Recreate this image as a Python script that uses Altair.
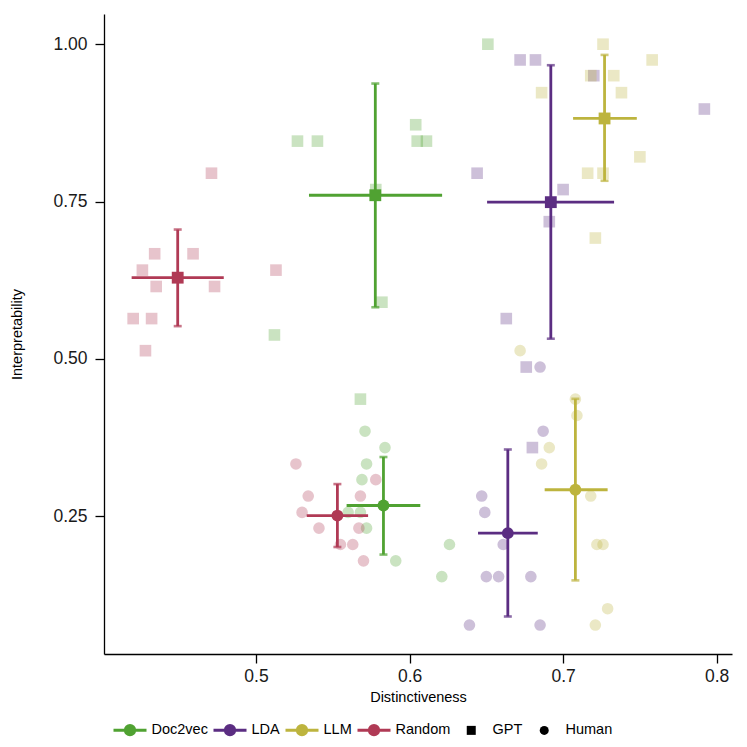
import altair as alt
import pandas as pd

models = ["Doc2vec", "LDA", "LLM", "Random"]
raters = ["GPT", "Human"]
model_colors = ["#50a232", "#5b2d82", "#bdb43e", "#b03a55"]

# ---- individual topic scores (faded points) ----
doc2vec_gpt_x = [0.527, 0.540, 0.604, 0.605, 0.611, 0.578, 0.582, 0.512, 0.651, 0.568]
doc2vec_gpt_y = [0.846, 0.846, 0.872, 0.846, 0.846, 0.769, 0.590, 0.538, 1.000, 0.436]
lda_gpt_x = [0.672, 0.682, 0.720, 0.792, 0.644, 0.700, 0.691, 0.663, 0.676, 0.680]
lda_gpt_y = [0.975, 0.975, 0.950, 0.897, 0.795, 0.769, 0.718, 0.564, 0.487, 0.359]
llm_gpt_x = [0.726, 0.758, 0.718, 0.733, 0.686, 0.738, 0.750, 0.716, 0.726, 0.721]
llm_gpt_y = [1.000, 0.975, 0.950, 0.950, 0.923, 0.923, 0.821, 0.795, 0.795, 0.692]
random_gpt_x = [0.471, 0.434, 0.459, 0.426, 0.435, 0.473, 0.420, 0.432, 0.428, 0.513]
random_gpt_y = [0.795, 0.667, 0.667, 0.641, 0.615, 0.615, 0.564, 0.564, 0.513, 0.641]

doc2vec_hum_x = [0.571, 0.584, 0.572, 0.569, 0.560, 0.568, 0.572, 0.591, 0.626, 0.621]
doc2vec_hum_y = [0.385, 0.359, 0.333, 0.308, 0.256, 0.256, 0.231, 0.179, 0.205, 0.154]
lda_hum_x = [0.685, 0.687, 0.647, 0.649, 0.661, 0.650, 0.658, 0.679, 0.639, 0.685]
lda_hum_y = [0.487, 0.385, 0.282, 0.256, 0.205, 0.154, 0.154, 0.154, 0.077, 0.077]
llm_hum_x = [0.672, 0.708, 0.709, 0.691, 0.686, 0.718, 0.722, 0.726, 0.729, 0.721]
llm_hum_y = [0.513, 0.436, 0.410, 0.359, 0.333, 0.282, 0.205, 0.205, 0.103, 0.077]
random_hum_x = [0.526, 0.534, 0.530, 0.541, 0.578, 0.568, 0.567, 0.555, 0.563, 0.570]
random_hum_y = [0.333, 0.282, 0.256, 0.231, 0.308, 0.282, 0.231, 0.205, 0.205, 0.179]

# ---- group means and error bars ----
sum_model = ["Doc2vec", "LDA", "LLM", "Random", "Doc2vec", "LDA", "LLM", "Random"]
sum_rater = ["GPT", "GPT", "GPT", "GPT", "Human", "Human", "Human", "Human"]
sum_x = [0.5777, 0.692, 0.727, 0.449, 0.583, 0.664, 0.708, 0.553]
sum_y = [0.760, 0.749, 0.882, 0.629, 0.267, 0.223, 0.292, 0.251]
sum_xlo = [0.5345, 0.6505, 0.7065, 0.419, 0.559, 0.6446, 0.688, 0.533]
sum_xhi = [0.6212, 0.7332, 0.748, 0.479, 0.607, 0.6835, 0.729, 0.573]
sum_ylo = [0.582, 0.532, 0.783, 0.552, 0.189, 0.0906, 0.148, 0.201]
sum_yhi = [0.9375, 0.9666, 0.983, 0.7055, 0.344, 0.356, 0.4365, 0.301]

groups = [
    ("Doc2vec", "GPT", doc2vec_gpt_x, doc2vec_gpt_y),
    ("LDA", "GPT", lda_gpt_x, lda_gpt_y),
    ("LLM", "GPT", llm_gpt_x, llm_gpt_y),
    ("Random", "GPT", random_gpt_x, random_gpt_y),
    ("Doc2vec", "Human", doc2vec_hum_x, doc2vec_hum_y),
    ("LDA", "Human", lda_hum_x, lda_hum_y),
    ("LLM", "Human", llm_hum_x, llm_hum_y),
    ("Random", "Human", random_hum_x, random_hum_y),
]
rows = []
for m, r, xs, ys in groups:
    for xv, yv in zip(xs, ys):
        rows.append({"model": m, "rater": r, "x": xv, "y": yv})
points = pd.DataFrame(rows)

summary = pd.DataFrame({
    "model": sum_model, "rater": sum_rater, "mx": sum_x, "my": sum_y,
    "xlo": sum_xlo, "xhi": sum_xhi, "ylo": sum_ylo, "yhi": sum_yhi,
})

xscale = alt.Scale(domain=[0.401, 0.810], nice=False, zero=False)
yscale = alt.Scale(domain=[0.031, 1.048], nice=False, zero=False)

x_axis = alt.Axis(values=[0.5, 0.6, 0.7, 0.8], format=".1f", grid=False,
                  tickSize=9, labelPadding=4, titleY=43, titleBaseline="middle")
y_axis = alt.Axis(values=[0.25, 0.5, 0.75, 1.0], format=".2f", grid=False,
                  tickSize=9, labelPadding=8, titleX=-87, titleY=320,
                  titleBaseline="middle")

line_dot = "M-1,0H1M0.28,0A0.28,0.28,0,1,1,-0.28,0A0.28,0.28,0,1,1,0.28,0Z"

def model_legend():
    return alt.Legend(
        title=None, orient="none", legendX=8, legendY=698, direction="horizontal",
        symbolType=line_dot, symbolSize=1089, symbolStrokeWidth=3, symbolOpacity=1,
        labelOffset=3.5, columnPadding=-1, padding=0, labelFontSize=14.5,
    )

shape_legend = alt.Legend(
    title=None, orient="none", legendX=360, legendY=709, direction="horizontal",
    symbolSize=81, symbolStrokeWidth=0, symbolOpacity=1, symbolFillColor="black",
    symbolStrokeColor="black",
    labelOffset=14, columnPadding=14, padding=0, labelFontSize=14.5,
)

fill_enc = alt.Fill("model:N", scale=alt.Scale(domain=models, range=model_colors),
                    legend=model_legend())
stroke_enc = alt.Stroke("model:N", scale=alt.Scale(domain=models, range=model_colors),
                        legend=model_legend())
shape_enc = alt.Shape("rater:N", scale=alt.Scale(domain=raters, range=["square", "circle"]),
                      legend=shape_legend)

def X(field):
    return alt.X(field, type="quantitative", scale=xscale, axis=x_axis, title="Distinctiveness")

def Y(field):
    return alt.Y(field, type="quantitative", scale=yscale, axis=y_axis, title="Interpretability")

pts = alt.Chart(points).mark_point(filled=True, opacity=0.3, size=135, strokeWidth=0).encode(
    x=X("x"), y=Y("y"), fill=fill_enc, stroke=stroke_enc, shape=shape_enc)

base = alt.Chart(summary)
hbar = base.mark_rule(strokeWidth=2.8).encode(
    x=X("xlo"), x2="xhi", y=Y("my"), stroke=stroke_enc)
vbar = base.mark_rule(strokeWidth=2.8).encode(
    x=X("mx"), y=Y("ylo"), y2="yhi", stroke=stroke_enc)
cap_lo = base.mark_tick(orient="horizontal", size=8, thickness=2.6).encode(
    x=X("mx"), y=Y("ylo"), fill=fill_enc)
cap_hi = base.mark_tick(orient="horizontal", size=8, thickness=2.6).encode(
    x=X("mx"), y=Y("yhi"), fill=fill_enc)
means = base.mark_point(filled=True, opacity=1, size=140, strokeWidth=0).encode(
    x=X("mx"), y=Y("my"), fill=fill_enc, stroke=stroke_enc, shape=shape_enc)

chart = alt.layer(pts, hbar, vbar, cap_lo, cap_hi, means).properties(
    width=628, height=640,
    autosize=alt.AutoSizeParams(type="none"),
    padding={"left": 96, "top": 6, "right": 5, "bottom": 84},
).configure(font="Liberation Sans").configure_view(stroke=None).configure_axis(
    domainColor="black", domainWidth=1.3, tickColor="black", tickWidth=1.3,
    labelColor="#1a1a1a", labelFontSize=17.5, titleColor="black", titleFontSize=14.5,
    titleFontWeight="normal", labelFont="Liberation Sans", titleFont="Liberation Sans",
).configure_legend(labelColor="black", labelFont="Liberation Sans")

chart.save("out.html", embed_options={"renderer": "svg", "actions": False})
